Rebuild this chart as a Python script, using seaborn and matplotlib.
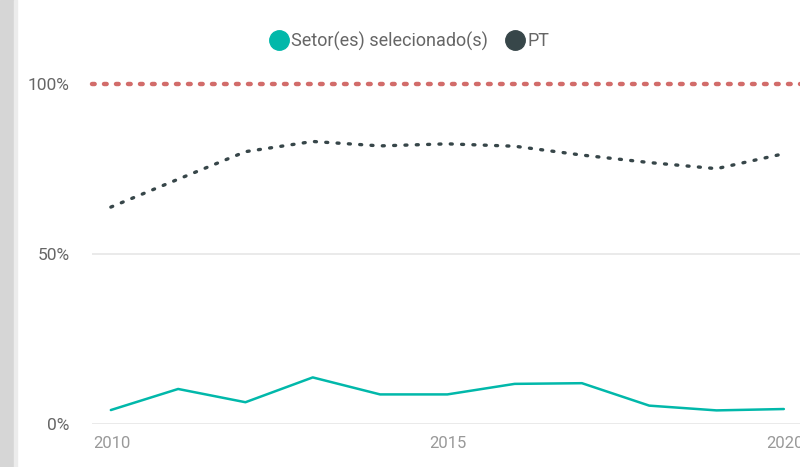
import numpy as np
import matplotlib
matplotlib.use('Agg')
import matplotlib.pyplot as plt
import matplotlib.transforms as mtrans
import seaborn as sns
import pandas as pd
from matplotlib.lines import Line2D
from matplotlib.patches import Rectangle

# data
years = [2010, 2011, 2012, 2013, 2014, 2015, 2016, 2017, 2018, 2019, 2020]
setor = [4.1, 10.3, 6.4, 13.7, 8.7, 8.7, 11.8, 12.0, 5.4, 4.0, 4.4]
pt = [63.8, 72.0, 80.1, 83.1, 81.8, 82.4, 81.7, 79.1, 76.9, 75.1, 79.5]
target = [100, 100]
target_years = [2009.72, 2020.3]
series_names = ['Setor(es) selecionado(s)', 'PT']
y_ticks = [0, 50, 100]
y_tick_labels = ['0%', '50%', '100%']
x_ticks = [2010, 2015, 2020]

teal = '#01B8AA'
dark = '#374649'
red = '#d26c6a'

sns.set_theme(style='white')
plt.rcParams['font.family'] = ['Roboto', 'DejaVu Sans']

df = pd.DataFrame({'year': years * 2,
                   'value': setor + pt,
                   'serie': [series_names[0]] * len(years) + [series_names[1]] * len(years)})

fig = plt.figure(figsize=(8, 4.67), dpi=100)
ax = fig.add_axes([0.115, 0.0921, 0.885, 0.728])

# light gridlines
for v in [0, 50]:
    ax.axhline(v, color='#e6e6e6', lw=1.2, zorder=0)

# target line (100%)
sns.lineplot(x=target_years, y=target, ax=ax, color=red, lw=3.2, zorder=3)
ax.lines[-1].set_dashes((0.6, 2.1))
ax.lines[-1].set_dash_capstyle('round')
ax.lines[-1].set_clip_on(False)

sns.lineplot(data=df[df['serie'] == series_names[0]], x='year', y='value', ax=ax,
             color=teal, lw=1.8, legend=False)
sns.lineplot(data=df[df['serie'] == series_names[1]], x='year', y='value', ax=ax,
             color=dark, lw=2.4, legend=False)
ax.lines[-1].set_dashes((0.6, 2.8))
ax.lines[-1].set_dash_capstyle('round')

ax.set_xlim(2009.72, 2020.24)
ax.set_ylim(0, 100)
ax.set_yticks(y_ticks)
ax.set_yticklabels(y_tick_labels)
ax.set_xticks(x_ticks)
ax.set_xlabel('')
ax.set_ylabel('')
for s in ax.spines.values():
    s.set_visible(False)
ax.tick_params(axis='y', length=0, pad=16, labelsize=12.5, labelcolor='#666666')
ax.tick_params(axis='x', length=0, pad=9, labelsize=12, labelcolor='#999999')
offset = mtrans.ScaledTranslation(-18 / 100, 0, fig.dpi_scale_trans)
for lbl in ax.get_xticklabels():
    lbl.set_horizontalalignment('left')
    lbl.set_transform(lbl.get_transform() + offset)

handles = [Line2D([], [], marker='o', ls='', color=teal, markersize=14),
           Line2D([], [], marker='o', ls='', color=dark, markersize=14)]
fig.legend(handles, series_names, loc='center', bbox_to_anchor=(0.511, 0.912), ncol=2,
           frameon=False, fontsize=13, labelcolor='#666666', handletextpad=0.1,
           columnspacing=0.9, handlelength=1.2)

# grey strip on the left edge
fig.patches.append(Rectangle((0, 0), 14 / 800, 1, transform=fig.transFigure,
                             color='#d6d6d6', zorder=0))
fig.patches.append(Rectangle((14 / 800, 0), 3 / 800, 1, transform=fig.transFigure,
                             color='#ececec', zorder=0))

plt.savefig('out.png', dpi=100)
